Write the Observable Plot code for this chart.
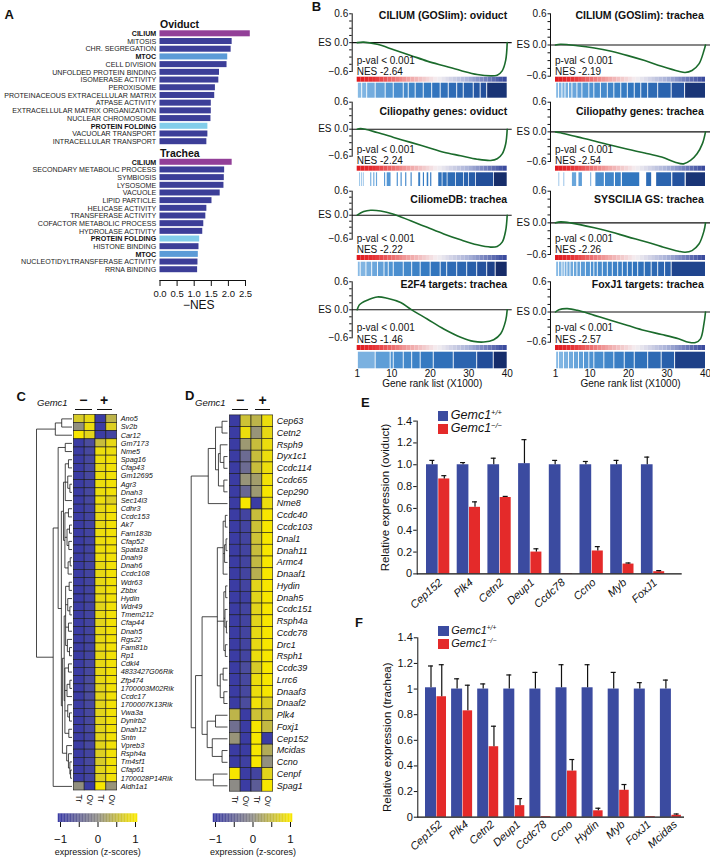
<!DOCTYPE html>
<html><head><meta charset="utf-8">
<script src="https://cdn.jsdelivr.net/npm/d3@7"></script>
<script src="https://cdn.jsdelivr.net/npm/@observablehq/plot@0.6"></script>
<style>
html,body{margin:0;padding:0;background:#fff;}
#fig{position:relative;width:710px;height:858px;overflow:hidden;background:#fff;font-family:"Liberation Sans",Arial,Helvetica,sans-serif;color:#111;}
#fig svg{position:absolute;left:0;top:0;overflow:visible;}
.t{position:absolute;white-space:nowrap;line-height:1;}
.sg{position:absolute;text-align:center;border-bottom:1.3px solid #111;font-weight:bold;font-size:14px;line-height:17px;height:17px;}
.sw{position:absolute;}
sup{font-size:60%;vertical-align:0.55em;line-height:0;}
</style></head><body><div id="fig"></div>
<script>
// ---------------- DATA ----------------
// Panel A
const ovTerms = ["CILIUM","MITOSIS","CHR. SEGREGATION","MTOC","CELL DIVISION","UNFOLDED PROTEIN BINDING","ISOMERASE ACTIVITY","PEROXISOME","PROTEINACEOUS EXTRACELLULAR MATRIX","ATPASE ACTIVITY","EXTRACELLULAR MATRIX ORGANIZATION","NUCLEAR CHROMOSOME","PROTEIN FOLDING","VACUOLAR TRANSPORT","INTRACELLULAR TRANSPORT"];
const ovNES = [2.64,2.11,2.08,1.98,1.96,1.74,1.72,1.62,1.60,1.50,1.50,1.49,1.40,1.40,1.37];
const trTerms = ["CILIUM","SECONDARY METABOLIC PROCESS","SYMBIOSIS","LYSOSOME","VACUOLE","LIPID PARTICLE","HELICASE ACTIVITY","TRANSFERASE ACTIVITY","COFACTOR METABOLIC PROCESS","HYDROLASE ACTIVITY","PROTEIN FOLDING","HISTONE BINDING","MTOC","NUCLEOTIDYLTRANSFERASE ACTIVITY","RRNA BINDING"];
const trNES = [2.11,1.89,1.88,1.87,1.76,1.52,1.37,1.34,1.28,1.25,1.16,1.14,1.12,1.11,1.10];
const aTicks = [0,0.5,1,1.5,2,2.5];

// Panel B (GSEA): titles, NES, running-ES curves [rank(x1000), ES], hit strips
const gseaTitles = ["CILIUM (GOSlim): oviduct","CILIUM (GOSlim): trachea","Ciliopathy genes: oviduct","Ciliopathy genes: trachea","CiliomeDB: trachea","SYSCILIA GS: trachea","E2F4 targets: trachea","FoxJ1 targets: trachea"];
const gseaNES = ["-2.64","-2.19","-2.24","-2.54","-2.22","-2.26","-1.46","-2.57"];
const gseaP = "p-val < 0.001";
const esCiliumOv = [[1,0],[2.7,0.01],[6.2,-0.035],[10.5,-0.147],[14.9,-0.265],[19.2,-0.384],[23.5,-0.482],[27.9,-0.58],[32.2,-0.663],[35.7,-0.691],[37.4,-0.677],[38.7,-0.586],[39.6,-0.37],[40,0]];
const esCiliumTr = [[1,0],[2.3,0.013],[6.7,-0.013],[11.1,-0.057],[15.5,-0.121],[19.8,-0.204],[24.2,-0.3],[28.6,-0.408],[33,-0.504],[34.7,-0.53],[36.5,-0.491],[38.3,-0.364],[39.6,-0.108],[40,0]];
const esCilioOv = [[1,0],[1.9,0.015],[6.2,-0.073],[10.5,-0.183],[14.9,-0.293],[19.2,-0.402],[23.5,-0.512],[27.9,-0.59],[32.2,-0.666],[35.7,-0.695],[37.4,-0.658],[38.7,-0.549],[39.6,-0.329],[40,0]];
const esCilioTr = [[1,0],[2.3,-0.02],[6.7,-0.102],[11.1,-0.184],[15.5,-0.273],[19.8,-0.354],[24.2,-0.429],[28.6,-0.511],[32.1,-0.614],[34.3,-0.648],[36.1,-0.579],[37.8,-0.443],[39.2,-0.239],[40,0]];
const esCiliome = [[1,0],[2.7,0.09],[4.5,0.123],[7.1,0.107],[10.5,0.025],[14.9,-0.14],[19.2,-0.304],[23.5,-0.468],[27.9,-0.616],[32.2,-0.74],[35.7,-0.797],[37.4,-0.78],[38.7,-0.674],[39.6,-0.386],[40,0]];
const esSyscilia = [[1,0],[2.3,0.019],[4.9,0],[11.1,-0.093],[15.5,-0.173],[19.8,-0.266],[24.2,-0.352],[28.6,-0.451],[33,-0.538],[34.7,-0.557],[36.5,-0.526],[38.3,-0.402],[39.6,-0.155],[40,0]];
const esE2F4 = [[1,0],[1.5,0.1],[2.3,0.155],[3.6,0.205],[6.2,0.275],[8.8,0.247],[12.3,0.155],[14.9,0.014],[19.2,-0.198],[23.5,-0.41],[27.9,-0.586],[31.3,-0.677],[33.9,-0.691],[36.5,-0.642],[38.3,-0.515],[39.6,-0.233],[40,0]];
const esFoxJ1 = [[1,0],[1.9,0.047],[4.1,0.067],[6.7,0.033],[11.1,-0.067],[15.5,-0.167],[19.8,-0.267],[24.2,-0.367],[28.6,-0.447],[33,-0.533],[35.6,-0.6],[37.4,-0.607],[38.7,-0.533],[39.6,-0.233],[40,0]];
// dense strips: white gap positions (rank x1000)
const gapsCiliumOv = [2.3,3.6,5.8,8.4,10.5,13.1,14.4,16.2,18.3,20.5,22.7,24.8,27,28.7,31.3,33.1,34.8];
const gapsCiliumTr = [1.9,2.8,3.6,4.5,5.4,6.7,8,9.8,11.1,12.8,14.6,16.3,18.1,19.8,21.6,23.3,25.1,27.7,31.2,34.7];
const gapsCiliome = [1.9,3.4,4.9,6.4,8.1,9.2,10.5,13.1,15.3,17.5,20.1,22.7,24.4,27,29.6,32.2,34.8,37];
const gapsSyscilia = [1.9,2.8,3.4,4.1,4.9,5.8,6.7,7.6,8.9,10.2,11.1,12,13.3,14.6,15.9,17.3,18.5,19.8,21.1,22.5,24.2,26,27.7,29.5,31.2];
const gapsE2F4 = [5.8,9.7,10.5,13.1,15.3,17.5,20.9,26.1,32.2,36.5];
const gapsFoxJ1 = [1.9,3.2,4.5,5.8,7.1,8.4,9.8,11.1,13.7,16.3,19,21.6,25.1,28.6,32.1];
// sparse strips: hit intervals [from, to]
const hitsCilioOv = [[1.6,1.8],[2.1,2.3],[2.6,2.8],[4.5,4.8],[5.3,5.6],[6.0,6.3],[8.1,8.4],[8.8,9.8],[11.4,11.7],[12.4,12.7],[13.6,13.9],[15.0,15.3],[17.0,17.5],[18.2,18.5],[19.2,19.6],[20.1,20.4],[22.2,23.1],[23.3,24.4],[24.6,26.6],[26.8,28.7],[28.9,30],[30.2,31.8],[32.0,36.5],[36.7,40]];
const hitsCilioTr = [[1.9,2.1],[3.2,3.4],[5.4,6.5],[7.1,8.0],[10.2,10.4],[11.5,13.7],[14.0,16.3],[16.6,18.1],[18.4,22.9],[24.7,26],[27.3,31.2],[31.5,34.7],[35.0,40]];
const gseaCurves = [esCiliumOv, esCiliumTr, esCilioOv, esCilioTr, esCiliome, esSyscilia, esE2F4, esFoxJ1];
const gseaStrips = [{gaps:gapsCiliumOv},{gaps:gapsCiliumTr},{hits:hitsCilioOv},{hits:hitsCilioTr},{gaps:gapsCiliome},{gaps:gapsSyscilia},{gaps:gapsE2F4},{gaps:gapsFoxJ1}];
const rankTicks = [1,10,20,30,40];
const esTicks = [0.6,0.45,0.3,0.15,0,-0.15,-0.3,-0.45,-0.6];

// Panel C heatmap
const hmCols = ["−Tr","−Ov","+Tr","+Ov"];
const hmColLabels = ["Tr","Ov","Tr","Ov"];
const genesC = ["Ano5","Sv2b","Car12","Gm7173","Nme5","Spag16","Cfap43","Gm12695","Agr3","Dnah3","Sec14l3","Cdhr3","Ccdc153","Ak7","Fam183b","Cfap52","Spata18","Dnah9","Dnah6","Ccdc108","Wdr63","Zbbx","Hydin","Wdr49","Tmem212","Cfap44","Dnah5","Rgs22","Fam81b","Rp1","Cdkl4","4833427G06Rik","Zfp474","1700003M02Rik","Ccdc17","1700007K13Rik","Vwa3a","Dynlrb2","Dnah12","Sntn","Vpreb3","Rsph4a","Tm4sf1","Cfap61","1700028P14Rik","Aldh1a1"];
const zC = [
[0.7,0.85,-1,0.45],[0.05,0.9,-1,0.75],[1,0.8,-1,-0.9],[-1,-0.8,0.55,0.85],[-1,-0.85,0.9,0.9],
[-1,-0.85,0.9,0.95],[-1,-0.85,0.85,0.95],[-1,-0.85,0.9,0.95],[-1,-0.9,0.9,0.95],[-1,-0.85,0.9,0.95],
[-1,-0.85,0.9,0.75],[-1,-0.9,0.85,0.95],[-1,-0.9,0.85,0.95],[-1,-0.9,0.85,0.95],[-1,-0.9,0.9,0.95],
[-1,-0.9,0.9,0.95],[-1,-0.9,0.9,0.95],[-1,-0.9,0.9,0.95],[-1,-0.9,0.85,0.95],[-1,-0.9,0.85,0.95],
[-1,-0.9,0.85,0.95],[-1,-0.9,0.85,0.95],[-1,-0.9,0.85,0.95],[-1,-0.9,0.8,0.95],[-1,-0.9,0.85,0.95],
[-1,-0.9,0.8,0.95],[-1,-0.9,0.85,0.95],[-1,-0.9,0.85,0.95],[-1,-0.9,0.85,0.95],[-1,-0.9,0.85,0.95],
[-1,-0.85,0.85,0.95],[-1,-0.85,0.85,0.95],[-1,-0.8,0.85,0.95],[-1,-0.8,0.8,0.95],[-1,-0.8,0.8,0.95],
[-1,-0.85,0.8,0.95],[-1,-0.85,0.8,0.95],[-1,-0.85,0.8,0.95],[-1,-0.85,0.8,0.95],[-1,-0.9,0.8,0.95],
[-1,-0.85,0.8,0.95],[-1,-0.9,0.75,0.95],[-1,-0.85,0.7,0.95],[-1,-0.9,0.8,0.95],[-1,-0.9,0.75,0.95],
[0.05,-1,1,0.1]];
const treeC = [1.0,
  [0.47,[0.29,"Ano5","Sv2b"],"Car12"],
  [0.53,
    [0.39,
      [0.19,"Gm7173","Nme5"],
      [0.30,
        [0.24,
          [0.19,[0.1,"Spag16","Cfap43"],[0.12,"Gm12695",[0.06,"Agr3","Dnah3"]],"Sec14l3"],
          [0.2,[0.1,"Cdhr3","Ccdc153"],[0.14,[0.07,"Ak7","Fam183b"],[0.09,"Cfap52","Spata18"]],[0.11,[0.05,"Dnah9","Dnah6"],"Ccdc108"]]],
        [0.27,
          [0.22,
            [0.18,[0.08,"Wdr63","Zbbx"],[0.12,"Hydin",[0.06,"Wdr49","Tmem212"]],[0.1,"Cfap44","Dnah5"],[0.13,"Rgs22",[0.07,"Fam81b","Rp1"]]],
            [0.2,[0.1,"Cdkl4","4833427G06Rik"],[0.14,[0.06,"Zfp474","1700003M02Rik"],"Ccdc17"],[0.12,"1700007K13Rik",[0.07,"Vwa3a","Dynlrb2"]],[0.09,"Dnah12","Sntn"]]],
          [0.15,"Vpreb3",[0.1,"Rsph4a",[0.06,"Tm4sf1",[0.04,"Cfap61","1700028P14Rik"]]]]]]],
    "Aldh1a1"]];

// Panel D heatmap
const genesD = ["Cep63","Cetn2","Rsph9","Dyx1c1","Ccdc114","Ccdc65","Cep290","Nme8","Ccdc40","Ccdc103","Dnal1","Dnah11","Armc4","Dnaaf1","Hydin","Dnah5","Ccdc151","Rsph4a","Ccdc78","Drc1","Rsph1","Ccdc39","Lrrc6","Dnaaf3","Dnaaf2","Plk4","Foxj1","Cep152","Mcidas","Ccno","Cenpf","Spag1"];
const zD = [
[-1,0.6,0.45,0.9],[-1,0.9,0.1,0.85],[-1,0.15,0.55,0.9],[-1,-0.4,0.55,0.9],[-1,-0.4,0.55,0.9],
[-1,0.1,0.2,0.95],[-1,-0.45,0.15,1],[-1,1,-1,0.9],[-1,-0.9,0.55,1],[-1,-0.9,0.6,1],
[-1,-0.9,0.6,1],[-1,-0.9,0.55,1],[-1,-0.9,0.5,1],[-1,-0.9,0.4,1],[-1,-0.9,0.8,1],
[-1,-0.95,0.8,1],[-1,-0.9,0.8,1],[-1,-0.9,0.8,1],[-1,-0.9,0.85,1],[-1,-0.9,0.85,1],
[-1,-0.9,0.9,1],[-1,-0.8,0.7,1],[-1,-0.85,0.9,1],[-1,-0.85,0.9,1],[-1,-0.8,0.95,0.75],
[0.45,-1,0.6,0.6],[-0.35,-1,1,0.5],[0.1,-1,1,-1],[-1,-1,1,0.35],[-1,-0.95,1,0.05],
[1,-1,-0.9,0.8],[0,-1,-0.6,1]];
const treeD = [1.0,
  [0.53,[0.33,[0.15,"Cep63","Cetn2"],[0.25,[0.2,"Rsph9",[0.1,"Dyx1c1","Ccdc114"]],[0.1,"Ccdc65","Cep290"]]],"Nme8"],
  [0.88,
    [0.70,
      [0.28,
        [0.12,[0.06,"Ccdc40","Ccdc103"],[0.08,[0.04,"Dnal1","Dnah11"],"Armc4"],"Dnaaf1"],
        [0.1,[0.05,"Hydin","Dnah5"],[0.07,"Ccdc151",[0.03,"Rsph4a","Ccdc78"]],[0.06,"Drc1","Rsph1"]],
        [0.2,[0.12,"Ccdc39","Lrrc6"],[0.1,"Dnaaf3","Dnaaf2"]]],
      [0.56,[0.33,"Plk4","Foxj1"],[0.42,"Cep152",[0.15,"Mcidas","Ccno"]]]],
    [0.39,"Cenpf","Spag1"]]];
const zTicks = [-1,-0.5,0,0.5,1];

// Panel E (oviduct qPCR)
const genesE = ["Cep152","Plk4","Cetn2","Deup1","Ccdc78","Ccno","Myb","FoxJ1"];
const eWT = [1,1,1,1.01,1,1,1,1];
const eWTerr = [0.04,0.02,0.06,0.22,0.04,0.03,0.04,0.07];
const eKO = [0.87,0.61,0.70,0.20,0.003,0.21,0.09,0.02];
const eKOerr = [0.03,0.05,0.01,0.03,0,0.04,0.01,0.01];
// Panel F (trachea qPCR)
const genesF = ["Cep152","Plk4","Cetn2","Deup1","Ccdc78","Ccno","Hydin","Myb","FoxJ1","Mcidas"];
const fWT = [1.01,1,1,1,1,1.01,1.01,1,1,1];
const fWTerr = [0.17,0.08,0.04,0.11,0.13,0.18,0.18,0.13,0.05,0.07];
const fKO = [0.94,0.83,0.55,0.09,0.005,0.36,0.05,0.21,0.005,0.015];
const fKOerr = [0.25,0.2,0.16,0.055,0,0.09,0.02,0.045,0,0.01];
const relTicks = [0,0.2,0.4,0.6,0.8,1,1.2,1.4];

// ---------------- STYLE / LAYOUT ----------------
const FONT = '"Liberation Sans", Arial, Helvetica, sans-serif';
const W = 710, H = 858;
const fig = document.getElementById("fig");
const HILITE = {"CILIUM":"#923f98","MTOC":"#5b9bd7","PROTEIN FOLDING":"#82cdea"};
const BAR_DARK = "#3c3e98";
const HM_BLUE = "#3b3ca3", HM_GREY = "#8d8b86", HM_YEL = "#f7e600";
const WT_COL = "#3b4ba0", KO_COL = "#e42a2a";
function frame(x0, x1, y0, y1) { return {width: W, height: H, marginLeft: x0, marginRight: W - x1, marginTop: y0, marginBottom: H - y1}; }
function add(opts, fs = 10) {
  const o = {...opts, marks: (opts.marks || []).filter(m => m)};
  const svg = Plot.plot({...o, style: {background: "transparent", fontFamily: FONT, fontSize: fs + "px", overflow: "visible", color: "#111"}});
  fig.appendChild(svg);
}
function txt(html, x, cy, fs, extra) {
  const d = document.createElement("div");
  d.className = "t";
  d.innerHTML = html;
  d.style.left = x + "px";
  d.style.top = (cy - fs * 0.55) + "px";
  d.style.fontSize = fs + "px";
  Object.assign(d.style, extra || {});
  fig.appendChild(d);
}

// ---------------- PANEL A ----------------
function termPlot(terms, nes, title, fr, yRange, titleDy, withAxis) {
  const rows = terms.map((t, i) => ({term: t, nes: nes[i]}));
  const xr = {domain: [0, 2.5], range: [159.5, 245]};
  add({...fr,
    x: withAxis ? {...xr, ticks: aTicks, tickFormat: d => d.toFixed(1), tickSize: 6, tickPadding: 4, line: true, label: null} : {...xr, axis: null},
    y: {domain: terms, range: yRange, padding: 0.22, round: false, axis: null},
    marks: [
      Plot.barX(rows, {y: "term", x: "nes", fill: d => HILITE[d.term] ?? BAR_DARK}),
      Plot.text(rows.filter(d => !HILITE[d.term]), {y: "term", text: "term", frameAnchor: "left", textAnchor: "end", dx: -3.8, fontSize: 7.1, fill: "#222"}),
      Plot.text(rows.filter(d => HILITE[d.term]), {y: "term", text: "term", frameAnchor: "left", textAnchor: "end", dx: -3.8, fontSize: 7.1, fontWeight: "bold", fill: "#111"}),
      Plot.text([title], {frameAnchor: "top-left", dy: titleDy, textAnchor: "start", lineAnchor: "middle", fontWeight: "bold", fontSize: 10.5}),
      withAxis ? Plot.text(["−NES"], {frameAnchor: "bottom", dx: -4, dy: 25, lineAnchor: "middle", fontSize: 12}) : null
    ]}, 9.5);
}
termPlot(ovTerms, ovNES, "Oviduct", frame(159.5, 256, 28.6, 145.9), [28.6, 145.9], -4.6, false);
termPlot(trTerms, trNES, "Trachea", frame(159.5, 245, 157.1, 280), [157.1, 273.9], -4.1, true);

// ---------------- PANEL B ----------------
const bCols = [{fx0: 351.7, fx1: 511.7, rx0: 356.7, rx1: 506.7, titleDx: -5},
               {fx0: 550, fx1: 710, rx0: 555, rx1: 705, titleDx: -6.7}];
const bLay = [
  {top: 13.3, bot: 71, tY: 15, pY: 60, nY: 71, g0: 76.7, g1: 81.7, s0: 82.7, s1: 97.7},
  {top: 13.3, bot: 75.7, tY: 15, pY: 60, nY: 71, g0: 76.7, g1: 81.7, s0: 82.7, s1: 97.7},
  {top: 101.7, bot: 155.7, tY: 111, pY: 149.5, nY: 160.7, g0: 165.7, g1: 170.7, s0: 172.3, s1: 186},
  {top: 101.7, bot: 161, tY: 111, pY: 149.5, nY: 160.7, g0: 165.7, g1: 170.7, s0: 172.3, s1: 186},
  {top: 190.7, bot: 238.7, tY: 198.7, pY: 238, nY: 249, g0: 255, g1: 260, s0: 261.7, s1: 276},
  {top: 190.7, bot: 254, tY: 198.7, pY: 238, nY: 249.3, g0: 255, g1: 260, s0: 261.7, s1: 276},
  {top: 281.3, bot: 337.3, tY: 284, pY: 327.3, nY: 339, g0: 345, g1: 350, s0: 351.7, s1: 368.3},
  {top: 281.3, bot: 341.7, tY: 284, pY: 327.3, nY: 339.3, g0: 345, g1: 350, s0: 351.7, s1: 368.3}
];
const esFmt = d => d === 0.6 ? "0.6" : d === 0 ? "ES 0.0" : d === -0.6 ? "−0.6" : "";
const gradColor = {type: "linear", domain: [1, 6, 14, 22, 30, 40], range: ["#df181d", "#e63639", "#f09c9c", "#f4eff2", "#a9b2d8", "#35469b"]};
const stripColor = {type: "linear", domain: [1, 10, 20, 30, 35, 40], range: ["#8cbde6", "#4f93d2", "#3378c0", "#2a62ad", "#214a96", "#111e55"]};
const gradBins = d3.range(1, 40);
function stripBands(s) {
  if (s.hits) return s.hits;
  const b = [1.3, ...s.gaps, 40];
  return b.slice(0, -1).map((v, i) => [i === 0 ? v : v + 0.12, i === b.length - 2 ? b[i + 1] : b[i + 1] - 0.12]);
}
gseaTitles.forEach((title, k) => {
  const c = bCols[k % 2], L = bLay[k], bottom = k >= 6;
  const xs = {domain: [1, 40], range: [c.rx0, c.rx1]};
  add({...frame(c.fx0, c.fx1, L.top, L.bot),
    x: {...xs, axis: null},
    y: {domain: [-0.6, 0.6], ticks: esTicks, tickSize: 2.5, tickPadding: 1.5, tickFormat: esFmt, line: true, label: null},
    marks: [
      Plot.ruleY([0], {stroke: "#111", strokeWidth: 1.1}),
      Plot.line(gseaCurves[k], {x: d => d[0], y: d => d[1], stroke: "#1b6b2c", strokeWidth: 1.6, curve: "catmull-rom"}),
      Plot.text([title], {frameAnchor: "top-right", dx: c.titleDx, dy: L.tY - L.top, textAnchor: "end", lineAnchor: "middle", fontWeight: "bold", fontSize: 10.5}),
      Plot.text([gseaP], {frameAnchor: "top-left", dx: 4.5, dy: L.pY - L.top, textAnchor: "start", lineAnchor: "middle", fontSize: 10}),
      Plot.text(["NES " + gseaNES[k]], {frameAnchor: "top-left", dx: 4.5, dy: L.nY - L.top, textAnchor: "start", lineAnchor: "middle", fontSize: 10})
    ]}, 10);
  add({...frame(c.rx0, c.rx1, L.g0, L.g1),
    x: {...xs, axis: null}, color: gradColor,
    marks: [Plot.rect(gradBins, {x1: d => d, x2: d => d + 1, fill: d => d + 0.5})]});
  add({...frame(c.fx0, c.fx1, L.s0, L.s1),
    x: bottom ? {...xs, ticks: rankTicks, tickSize: 0, tickPadding: 1.5, label: null} : {...xs, axis: null},
    color: stripColor,
    marks: [
      Plot.rect(stripBands(gseaStrips[k]), {x1: d => d[0], x2: d => d[1], fill: d => (d[0] + d[1]) / 2}),
      bottom ? Plot.text(["Gene rank list (X1000)"], {frameAnchor: "bottom", dy: 15, lineAnchor: "middle", fontSize: 10}) : null
    ]}, 10);
});

// ---------------- PANELS C & D ----------------
function dendroLinks(tree, order) {
  const idx = new Map(order.map((g, i) => [g, i]));
  const links = [];
  (function walk(n) {
    if (typeof n === "string") return {h: 0, y: idx.get(n)};
    const [h, ...kids] = n;
    const ks = kids.map(walk);
    for (const k of ks) links.push({x1: k.h, x2: h, y1: k.y, y2: k.y});
    links.push({x1: h, x2: h, y1: ks[0].y, y2: ks[ks.length - 1].y});
    return {h, y: (ks[0].y + ks[ks.length - 1].y) / 2};
  })(tree);
  return links;
}
const hmColor = {type: "linear", domain: [-1, 0, 1], range: [HM_BLUE, HM_GREY, HM_YEL], clamp: true};
function heatPanel(genes, z, tree, hx0, hx1, hy0, hy1, leafX, rootX, fsGene, lx0, lx1, rx0, rx1) {
  const cells = genes.flatMap((g, i) => hmCols.map((c, j) => ({gene: g, col: c, z: z[i][j]})));
  // dendrogram
  add({...frame(rootX - 1, leafX + 1, hy0, hy1),
    x: {domain: [0, 1], range: [leafX, rootX], axis: null},
    y: {domain: [-0.5, genes.length - 0.5], range: [hy0, hy1], axis: null},
    marks: [Plot.link(dendroLinks(tree, genes), {x1: "x1", y1: "y1", x2: "x2", y2: "y2", stroke: "#1a1a1a", strokeWidth: 0.8})]});
  // heatmap
  add({...frame(hx0, hx1, hy0, hy1),
    x: {domain: hmCols, padding: 0, round: false, axis: null},
    y: {domain: genes, padding: 0, round: false, axis: null},
    color: hmColor,
    marks: [
      Plot.cell(cells, {x: "col", y: "gene", fill: "z", stroke: "#1a1a1a", strokeWidth: 0.6, inset: 0}),
      Plot.text(genes, {y: d => d, frameAnchor: "right", textAnchor: "start", dx: 3.5, fontStyle: "italic", fontSize: fsGene}),
      Plot.text(hmCols, {x: d => d, text: (d, i) => hmColLabels[i], frameAnchor: "bottom", rotate: 90, textAnchor: "start", lineAnchor: "middle", dy: 4, fontSize: 8.5})
    ]}, 9);
  // legend ramp
  add({...frame(lx0, lx1, 813.3, 822),
    x: {domain: [-1, 1], range: [rx0, rx1], ticks: zTicks, tickSize: 5, tickPadding: 7.5, tickFormat: d => d === -1 ? "−1" : d === 0 ? "0" : d === 1 ? "1" : "", label: null},
    color: hmColor,
    marks: [
      Plot.rect(d3.range(-1.06, 1.04, 0.04), {x1: d => d, x2: d => d + 0.041, fill: d => d + 0.02}),
      Plot.text(["expression (z-scores)"], {frameAnchor: "bottom", dy: 29.7, lineAnchor: "middle", fontSize: 9})
    ]}, 11.5);
}
heatPanel(genesC, zC, treeC, 73.3, 116.7, 414.3, 790, 71.5, 36, 7.3, 58.3, 136, 60, 135);
heatPanel(genesD, zD, treeD, 229.3, 272.7, 414.9, 791.2, 227, 190.7, 9, 213.3, 291.7, 215, 290);

// ---------------- PANELS E & F ----------------
function barPanel(genes, wt, wtE, ko, koE, fr, xr, pi, po, bw, blueW, redW, tickFmt, yLabel, yLabDx, yLabDy, labDx, labDy) {
  const rows = genes.map((g, i) => ({gene: g, wt: wt[i], wtE: wtE[i], ko: ko[i], koE: koE[i]}));
  const bC = blueW / 2 - bw / 2, rC = bw / 2 - redW / 2;
  add({...fr,
    x: {domain: genes, range: xr, paddingInner: pi, paddingOuter: po, align: 0.5, round: false, axis: null},
    y: {domain: [0, 1.4], ticks: relTicks, tickFormat: tickFmt, tickSize: 3.5, tickPadding: 1.5, line: true, label: null},
    marks: [
      Plot.barY(rows, {x: "gene", y: "wt", fill: WT_COL, insetRight: bw - blueW}),
      Plot.barY(rows, {x: "gene", y: "ko", fill: KO_COL, insetLeft: bw - redW}),
      Plot.ruleX(rows, {x: "gene", y1: "wt", y2: d => d.wt + d.wtE, dx: bC, stroke: "#111", strokeWidth: 1.2}),
      Plot.ruleX(rows.filter(d => d.koE > 0), {x: "gene", y1: "ko", y2: d => d.ko + d.koE, dx: rC, stroke: "#111", strokeWidth: 1.2}),
      Plot.tickY(rows, {x: "gene", y: d => d.wt + d.wtE, insetLeft: blueW / 2 - 2.5, insetRight: bw - blueW / 2 - 2.5, stroke: "#111", strokeWidth: 1.2}),
      Plot.tickY(rows.filter(d => d.koE > 0), {x: "gene", y: d => d.ko + d.koE, insetLeft: bw - redW / 2 - 2.5, insetRight: redW / 2 - 2.5, stroke: "#111", strokeWidth: 1.2}),
      Plot.ruleY([0], {stroke: "#111", strokeWidth: 1.2}),
      Plot.text(genes, {x: d => d, frameAnchor: "bottom", rotate: -42, textAnchor: "end", lineAnchor: "middle", dx: labDx, dy: labDy, fontStyle: "italic", fontSize: 11}),
      Plot.text([yLabel], {frameAnchor: "left", rotate: -90, textAnchor: "middle", lineAnchor: "middle", dx: yLabDx, dy: yLabDy, fontSize: 11.5})
    ]}, 11);
}
barPanel(genesE, eWT, eWTerr, eKO, eKOerr, frame(416.7, 681.7, 420.6, 573.4), [416.7, 673.5], 0.241, 0.303, 23.3, 11.7, 11,
  d => d === 0 ? "0" : d.toFixed(1), "Relative expression (oviduct)", -31.7, 0, 2.5, 7);
barPanel(genesF, fWT, fWTerr, fKO, fKOerr, frame(417.3, 684, 637.3, 816.7), [417.3, 688.6], 0.195, 0.295, 21, 11, 9.5,
  d => d === 0 ? "0" : d === 1 ? "1" : d.toFixed(1), "Relative expression (trachea)", -30.6, 9.7, 4.5, 5.5);

// ---------------- HTML labels: panel letters, headers, legends ----------------
txt("A", 4.5, 15, 13, {fontWeight: "bold"});
txt("B", 311.7, 7.5, 13, {fontWeight: "bold"});
txt("C", 16.5, 397, 13, {fontWeight: "bold"});
txt("D", 185, 396.5, 13, {fontWeight: "bold"});
txt("E", 361, 403.3, 13, {fontWeight: "bold"});
txt("F", 355, 623.3, 13, {fontWeight: "bold"});
function header(gx, m0, m1, p0, p1) {
  txt("Gemc1", gx, 403.5, 9.5, {fontStyle: "italic"});
  for (const [a, b, s] of [[m0, m1, "−"], [p0, p1, "+"]]) {
    const d = document.createElement("div");
    d.className = "sg"; d.textContent = s;
    d.style.left = a + "px"; d.style.width = (b - a) + "px"; d.style.top = "391.5px";
    fig.appendChild(d);
  }
}
header(37, 75, 91.7, 96.7, 111.7);
header(195, 231.7, 248.3, 255, 270);
function legend(x, y1, y2, fs, sw) {
  for (const [y, col, sup] of [[y1, WT_COL, "+/+"], [y2, KO_COL, "−/−"]]) {
    const s = document.createElement("div");
    s.className = "sw";
    Object.assign(s.style, {left: x + "px", top: (y - sw / 2) + "px", width: sw + "px", height: sw + "px", background: col});
    fig.appendChild(s);
    txt("<i>Gemc1</i><sup><i>" + sup + "</i></sup>", x + sw + 2.5, y, fs);
  }
}
legend(438.3, 416.2, 429.2, 12.5, 10);
legend(438.3, 630.8, 644.2, 11, 10.5);
</script></body></html>
